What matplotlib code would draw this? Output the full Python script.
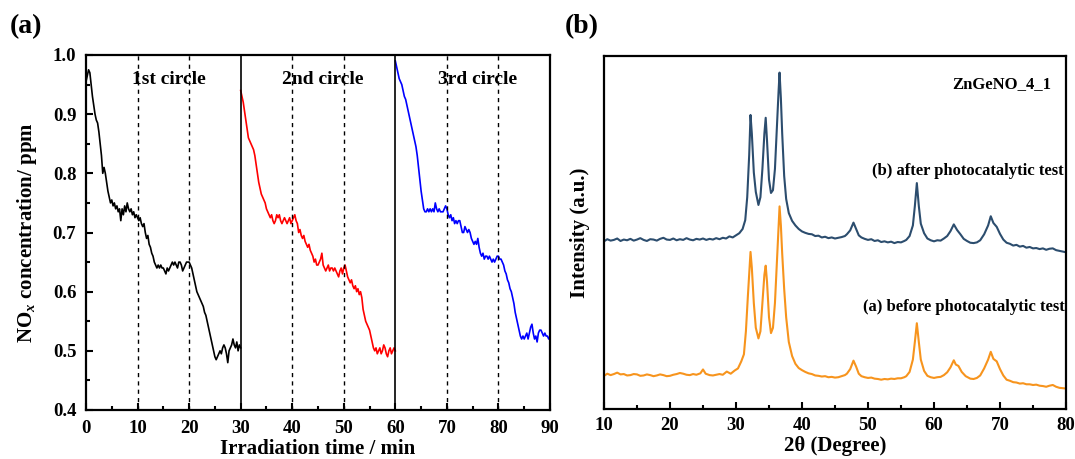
import numpy as np
import matplotlib
matplotlib.use("Agg")
import matplotlib.pyplot as plt
from matplotlib.ticker import MultipleLocator, FormatStrFormatter

# ---------------- data: panel (a) ----------------
cycle_starts = [0, 30, 60]
cycle_len = 30
cycle_labels = ["1st circle", "2nd circle", "3rd circle"]
cycle_colors = ["black", "#ff0000", "#0000ff"]

nox_cycle1 = [
    0.955, 0.965, 0.975, 0.97, 0.95, 0.93, 0.915, 0.90, 0.89, 0.885, 0.87, 0.85, 0.83, 0.80, 0.81, 0.80,
    0.785, 0.77, 0.76, 0.75, 0.755, 0.745, 0.75, 0.74, 0.745, 0.735, 0.74, 0.72, 0.74, 0.73, 0.745, 0.735,
    0.75, 0.74, 0.735, 0.74, 0.73, 0.735, 0.725, 0.73, 0.725, 0.72, 0.725, 0.715, 0.71, 0.715, 0.70, 0.69,
    0.695, 0.68, 0.675, 0.665, 0.66, 0.65, 0.645, 0.64, 0.645, 0.64, 0.645, 0.64, 0.64, 0.635, 0.63, 0.64,
    0.635, 0.64, 0.645, 0.65, 0.645, 0.65, 0.645, 0.64, 0.65, 0.65, 0.645, 0.635, 0.64, 0.645, 0.65, 0.65,
    0.65, 0.645, 0.64, 0.63, 0.62, 0.61, 0.60, 0.595, 0.59, 0.585, 0.58, 0.575, 0.565, 0.56, 0.55, 0.54,
    0.53, 0.52, 0.51, 0.50, 0.49, 0.485, 0.49, 0.495, 0.50, 0.495, 0.505, 0.51, 0.505, 0.495, 0.48, 0.50,
    0.505, 0.51, 0.52, 0.51, 0.505, 0.515, 0.50, 0.51, 0.505,
]
nox_cycle2 = [
    0.94, 0.93, 0.92, 0.905, 0.89, 0.875, 0.86, 0.855, 0.85, 0.845, 0.84, 0.83, 0.815, 0.80, 0.785, 0.775,
    0.765, 0.76, 0.755, 0.75, 0.74, 0.735, 0.73, 0.725, 0.73, 0.72, 0.715, 0.72, 0.73, 0.725, 0.73, 0.72,
    0.715, 0.72, 0.725, 0.72, 0.715, 0.72, 0.725, 0.715, 0.72, 0.725, 0.73, 0.72, 0.715, 0.70, 0.705, 0.695,
    0.69, 0.695, 0.685, 0.68, 0.675, 0.68, 0.67, 0.665, 0.66, 0.65, 0.655, 0.645, 0.645, 0.65, 0.655, 0.665,
    0.645, 0.64, 0.635, 0.64, 0.645, 0.635, 0.64, 0.64, 0.635, 0.64, 0.635, 0.63, 0.625, 0.635, 0.64, 0.63,
    0.64, 0.645, 0.635, 0.625, 0.62, 0.615, 0.62, 0.61, 0.605, 0.61, 0.60, 0.605, 0.595, 0.60, 0.59, 0.57,
    0.56, 0.55, 0.545, 0.54, 0.535, 0.525, 0.515, 0.505, 0.50, 0.505, 0.495, 0.50, 0.505, 0.495, 0.50, 0.51,
    0.505, 0.495, 0.49, 0.50, 0.505, 0.495, 0.50, 0.505, 0.50,
]
nox_cycle3 = [
    0.99, 0.98, 0.97, 0.96, 0.955, 0.95, 0.94, 0.93, 0.925, 0.915, 0.905, 0.895, 0.885, 0.875, 0.865, 0.855,
    0.845, 0.83, 0.81, 0.79, 0.77, 0.755, 0.74, 0.735, 0.735, 0.74, 0.735, 0.74, 0.735, 0.74, 0.735, 0.75,
    0.74, 0.735, 0.74, 0.735, 0.735, 0.735, 0.74, 0.745, 0.74, 0.73, 0.725, 0.73, 0.72, 0.725, 0.715, 0.72,
    0.715, 0.72, 0.72, 0.71, 0.70, 0.70, 0.71, 0.705, 0.70, 0.705, 0.70, 0.69, 0.685, 0.68, 0.685, 0.68,
    0.69, 0.675, 0.665, 0.66, 0.665, 0.655, 0.66, 0.66, 0.655, 0.66, 0.655, 0.65, 0.655, 0.65, 0.655, 0.66,
    0.66, 0.655, 0.655, 0.65, 0.645, 0.635, 0.63, 0.62, 0.615, 0.605, 0.60, 0.59, 0.58, 0.565, 0.555, 0.545,
    0.535, 0.525, 0.52, 0.525, 0.52, 0.525, 0.53, 0.52, 0.53, 0.54, 0.545, 0.53, 0.52, 0.525, 0.515, 0.53,
    0.535, 0.535, 0.53, 0.525, 0.53, 0.525, 0.525, 0.52, 0.525,
]
nox_cycles = [nox_cycle1, nox_cycle2, nox_cycle3]
dashed_times = [10, 20, 40, 50, 70, 80]
solid_times = [30, 60]

# ---------------- data: panel (b)  (2theta, intensity a.u.) ----------------
after_points = [
    (10, 47.5), (10.5, 48.1), (11, 47.7), (11.5, 47.9), (12, 48.3), (12.5, 47.6), (13, 48.0), (13.5, 47.8),
    (14, 48.2), (14.5, 47.7), (15, 48.0), (15.5, 48.4), (16, 47.9), (16.5, 47.6), (17, 48.1), (17.5, 48.0),
    (18, 47.7), (18.5, 48.2), (19, 48.5), (19.5, 48.0), (20, 47.9), (20.5, 48.3), (21, 47.8), (21.5, 48.1),
    (22, 47.9), (22.5, 48.4), (23, 48.0), (23.5, 47.8), (24, 48.2), (24.5, 48.0), (25, 48.3), (25.5, 47.9),
    (26, 48.2), (26.5, 48.0), (27, 48.4), (27.5, 48.1), (28, 48.5), (28.5, 48.3), (29, 48.9), (29.5, 48.6),
    (30, 49.2), (30.5, 49.8), (31, 51.0), (31.4, 53.5), (31.7, 60), (32.0, 72), (32.2, 83.3), (32.4, 78),
    (32.7, 67), (33.0, 61.5), (33.4, 57.8), (33.7, 60), (34.0, 68), (34.3, 78), (34.5, 82.5), (34.7, 76),
    (35.0, 65), (35.3, 61.2), (35.6, 62), (35.9, 68), (36.2, 80), (36.45, 90), (36.6, 95.3), (36.8, 88),
    (37.0, 78), (37.3, 66), (37.6, 59.5), (38.0, 55.5), (38.5, 53.3), (39.0, 52.0), (39.5, 51.0),
    (40, 50.3), (40.5, 49.9), (41, 49.6), (41.5, 49.5), (42, 49.0), (42.5, 49.1), (43, 48.6), (43.5, 48.8),
    (44, 48.4), (44.5, 48.6), (45, 48.3), (45.5, 48.5), (46, 48.7), (46.5, 49.0), (46.8, 49.5),
    (47.3, 50.6), (47.8, 52.8), (48.2, 51.0), (48.6, 49.2), (49, 48.6), (49.5, 48.2), (50, 47.9),
    (50.5, 48.1), (51, 47.6), (51.5, 47.8), (52, 47.3), (52.5, 47.5), (53, 47.2), (53.5, 47.4), (54, 47.0),
    (54.5, 47.3), (55, 47.2), (55.5, 47.6), (55.8, 47.9), (56.3, 49), (56.8, 52), (57.1, 57.5),
    (57.4, 64.0), (57.7, 57.5), (58.0, 52.5), (58.5, 49.8), (59, 48.3), (59.5, 47.8), (60, 47.5),
    (60.5, 47.8), (61, 47.7), (61.5, 48.3), (62, 49.0), (62.5, 50.4), (63.0, 52.3), (63.5, 50.7),
    (64.0, 49.5), (64.5, 48.2), (65, 47.6), (65.5, 47.1), (66, 47.0), (66.5, 47.2), (67.0, 47.8),
    (67.6, 49.5), (68.2, 52.0), (68.6, 54.6), (69.0, 52.7), (69.5, 51.6), (70.0, 49.6), (70.5, 48.0),
    (71, 47.1), (71.5, 46.8), (72, 46.3), (72.5, 46.5), (73, 46.0), (73.5, 46.2), (74, 45.7), (74.5, 45.9),
    (75, 45.5), (75.5, 45.6), (76, 45.3), (76.5, 45.5), (77, 45.1), (77.5, 45.4), (78, 45.5), (78.5, 45.0),
    (79, 44.8), (79.5, 44.6), (80, 44.4),
]
before_points = [
    (10, 9.4), (10.5, 10.0), (11, 9.6), (11.5, 9.9), (12, 10.3), (12.5, 9.8), (13, 9.9), (13.5, 9.5),
    (14, 9.6), (14.5, 9.9), (15, 9.8), (15.5, 9.4), (16, 9.5), (16.5, 9.8), (17, 9.6), (17.5, 9.3),
    (18, 9.5), (18.5, 9.8), (19, 9.6), (19.5, 9.3), (20, 9.4), (20.5, 9.7), (21, 9.9), (21.5, 10.2),
    (22, 10.0), (22.5, 9.7), (23, 9.6), (23.5, 9.9), (24, 9.7), (24.6, 10.1), (25.0, 11.2), (25.4, 10.0),
    (26, 9.6), (26.5, 9.5), (27, 9.7), (27.5, 9.9), (28, 9.7), (28.6, 10.6), (29.2, 10.0), (29.8, 10.9),
    (30.3, 11.5), (30.8, 13.5), (31.2, 15.5), (31.5, 22), (31.8, 32), (32.0, 38), (32.2, 44.5), (32.4, 40),
    (32.7, 30), (33.0, 23), (33.4, 20.0), (33.7, 22), (34.0, 30), (34.3, 38), (34.5, 40.6), (34.7, 36),
    (35.0, 26), (35.3, 21.5), (35.6, 23), (35.9, 30), (36.2, 42), (36.45, 52), (36.6, 57.4), (36.8, 52),
    (37.0, 44), (37.3, 34), (37.6, 26), (38.0, 19), (38.5, 15), (39.0, 12.8), (39.5, 11.6),
    (40, 11.0), (40.5, 10.5), (41, 10.1), (41.5, 9.9), (42, 9.5), (42.5, 9.4), (43, 9.2), (43.5, 9.3),
    (44, 9.0), (44.5, 9.1), (45, 8.9), (45.5, 9.0), (46, 9.3), (46.5, 9.6), (46.8, 10.0), (47.3, 11.3),
    (47.8, 13.7), (48.2, 12.0), (48.6, 10.0), (49, 9.3), (49.5, 9.0), (50, 8.8), (50.5, 8.9), (51, 8.6),
    (51.5, 8.5), (52, 8.3), (52.5, 8.5), (53, 8.4), (53.5, 8.6), (54, 8.5), (54.5, 8.7), (55, 8.7),
    (55.5, 9.0), (55.8, 9.3), (56.3, 10.5), (56.8, 14), (57.1, 19), (57.4, 24.3), (57.7, 19), (58.0, 14),
    (58.5, 10.8), (59, 9.4), (59.5, 9.0), (60, 8.8), (60.5, 9.0), (61, 9.1), (61.5, 9.6), (62, 10.4),
    (62.5, 11.8), (63.0, 13.8), (63.3, 12.6), (63.7, 12.2), (64.2, 10.5), (64.8, 9.3), (65.5, 8.6),
    (66, 8.5), (66.5, 8.8), (67.0, 9.5), (67.6, 11.5), (68.2, 14), (68.6, 16.2), (69.0, 14.2), (69.5, 13.5),
    (70.0, 11.3), (70.5, 9.5), (71, 8.3), (71.5, 8.0), (72, 7.6), (72.5, 7.5), (73, 7.2), (73.5, 7.3),
    (74, 7.0), (74.5, 7.0), (75, 6.8), (75.5, 6.9), (76, 6.6), (76.5, 6.5), (77, 6.3), (77.5, 6.6),
    (78, 6.8), (78.5, 6.3), (79, 6.0), (79.5, 5.9), (80, 5.8),
]
after_label = "(b) after photocatalytic test"
before_label = "(a) before photocatalytic test"
sample_label = "ZnGeNO_4_1"
after_color = "#2c4d6e"
before_color = "#f7941d"

# ---------------- style ----------------
plt.rcParams["font.family"] = ["Liberation Serif", "DejaVu Serif"]
plt.rcParams["font.weight"] = "bold"
plt.rcParams["mathtext.fontset"] = "custom"
plt.rcParams["mathtext.rm"] = "Liberation Serif:bold"
plt.rcParams["mathtext.it"] = "Liberation Serif:italic:bold"

W, H = 1075, 459
fig = plt.figure(figsize=(W / 100, H / 100), dpi=100)

def px_axes(l, r, t, b):
    return fig.add_axes([l / W, 1 - b / H, (r - l) / W, (b - t) / H])

ax1 = px_axes(86, 550, 55, 410)
ax2 = px_axes(604, 1066, 56, 409)

tick_fs = 13.5
label_fs = 15

# ----- panel (a) -----
for start, vals, col in zip(cycle_starts, nox_cycles, cycle_colors):
    t = start + cycle_len * np.arange(len(vals)) / (len(vals) - 1)
    ax1.plot(t, vals, color=col, lw=1.2)
for x in dashed_times:
    ax1.axvline(x, color="black", lw=1.0, ls=(0, (3, 3)))
for x in solid_times:
    ax1.axvline(x, color="black", lw=1.2)
for start, lab in zip(cycle_starts, cycle_labels):
    ax1.text(start + 16, 0.958, lab, ha="center", va="center", fontsize=14, fontweight="bold")

ax1.set_xlim(0, 90)
ax1.set_ylim(0.4, 1.0)
ax1.xaxis.set_major_locator(MultipleLocator(10))
ax1.xaxis.set_minor_locator(MultipleLocator(5))
ax1.yaxis.set_major_locator(MultipleLocator(0.1))
ax1.yaxis.set_minor_locator(MultipleLocator(0.05))
ax1.yaxis.set_major_formatter(FormatStrFormatter("%.1f"))
ax1.tick_params(which="both", direction="in", top=False, right=False, width=1.5, labelsize=tick_fs)
ax1.tick_params(which="major", length=5)
ax1.tick_params(which="minor", length=3)
ax1.tick_params(axis="x", which="major", pad=7)
ax1.tick_params(axis="y", which="major", pad=7)
ax1.set_xlabel("Irradiation time / min", fontsize=label_fs, fontweight="bold", labelpad=2)
ax1.set_ylabel(r"NO$_{\mathit{x}}$ concentration/ ppm", fontsize=label_fs, fontweight="bold", labelpad=10)
for sp in ax1.spines.values():
    sp.set_linewidth(1.6)

# ----- panel (b) -----
ax2.plot([p[0] for p in after_points], [p[1] for p in after_points], color=after_color, lw=1.5)
ax2.plot([p[0] for p in before_points], [p[1] for p in before_points], color=before_color, lw=1.5)
ax2.text(77.8, 92, sample_label, ha="right", va="center", fontsize=12, fontweight="bold")
ax2.text(79.7, 67.5, after_label, ha="right", va="center", fontsize=12, fontweight="bold")
ax2.text(79.8, 28.8, before_label, ha="right", va="center", fontsize=12, fontweight="bold")
ax2.set_xlim(10, 80)
ax2.set_ylim(0, 100)
ax2.xaxis.set_major_locator(MultipleLocator(10))
ax2.xaxis.set_minor_locator(MultipleLocator(5))
ax2.set_yticks([])
ax2.tick_params(which="both", direction="in", top=False, right=False, width=1.5, labelsize=tick_fs)
ax2.tick_params(which="major", length=5)
ax2.tick_params(which="minor", length=3)
ax2.tick_params(axis="x", which="major", pad=6)
ax2.set_xlabel("2θ (Degree)", fontsize=label_fs, fontweight="bold", labelpad=1)
ax2.set_ylabel("Intensity (a.u.)", fontsize=label_fs, fontweight="bold", labelpad=10)
for sp in ax2.spines.values():
    sp.set_linewidth(1.6)

for lab in ax1.get_xticklabels() + ax1.get_yticklabels() + ax2.get_xticklabels():
    lab.set_fontweight("bold")

fig.text(10 / W, 1 - 27 / H, "(a)", fontsize=20, fontweight="bold", va="center", ha="left")
fig.text(565 / W, 1 - 27 / H, "(b)", fontsize=20, fontweight="bold", va="center", ha="left")

fig.savefig("out.png", dpi=100)
